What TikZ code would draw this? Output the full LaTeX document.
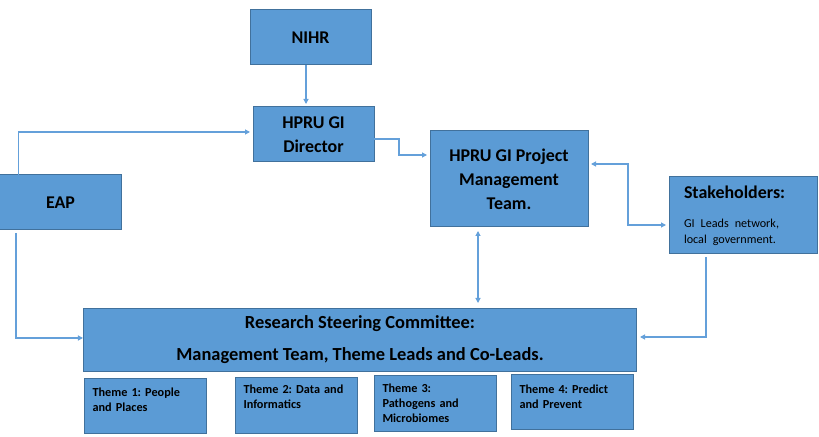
\documentclass[tikz,border=0pt]{standalone}
\usepackage{fontspec}
\setmainfont{Carlito}
\usetikzlibrary{arrows.meta, positioning, calc}
\definecolor{boxblue}{RGB}{91, 155, 213}
\definecolor{boxedge}{RGB}{65, 113, 156}
\definecolor{linkblue}{RGB}{100, 160, 218}
\frenchspacing

\begin{document}
\begin{tikzpicture}[x=1bp, y=-1bp,
    >={Triangle[length=5bp, width=5bp]},
    box/.style={draw=boxedge, fill=boxblue, line width=1bp, inner sep=0pt, outer sep=0pt,
        align=center, font=\bfseries\fontsize{18}{24}\selectfont},
    theme/.style={box, anchor=north west, align=left, text width=105bp, inner xsep=8.5bp,
        font=\bfseries\fontsize{12.3}{15.5}\selectfont},
    link/.style={draw=linkblue, line width=1.1bp, ->, shorten >=3bp}]
    \useasboundingbox (0,0) rectangle (819,437);

    % top row
    \node[box, minimum width=121bp, minimum height=55bp] (nihr) at (310.5,37.5) {NIHR};
    \node[box, minimum width=121bp, minimum height=55bp] (dir) at (313.5,134.5) {HPRU GI\\Director};
    \node[box, minimum width=121bp, minimum height=55bp] (eap) at (60.5,202.5) {EAP};
    \node[box, minimum width=158bp, minimum height=96bp] (pm) at (509,179) {HPRU GI Project\\Management\\Team.};
    \node[box, minimum width=148bp, minimum height=77bp, align=left, text width=118bp] (stake) at (743,215.5)
        {Stakeholders:\par\vspace{13bp}{\mdseries\fontsize{12.2}{16}\selectfont GI Leads network,\\local government.\par}};

    % steering committee and themes
    \node[box, minimum width=552bp, minimum height=62bp, font=\bfseries\fontsize{18.5}{32}\selectfont] (rsc) at (360,340)
        {Research Steering Committee:\\Management Team, Theme Leads and Co-Leads.};
    \node[theme, text height=18bp, text depth=37bp] (th1) at (84,378) {Theme 1: People\\and Places};
    \node[theme, text height=16bp, text depth=40bp] (th2) at (235,377) {Theme 2: Data and\\Informatics};
    \node[theme, text height=17bp, text depth=39bp] (th3) at (374,375) {Theme 3:\\Pathogens and\\Microbiomes};
    \node[theme, text height=19bp, text depth=36bp] (th4) at (511,374) {Theme 4: Predict\\and Prevent};

    % connectors
    \coordinate (nihrout) at ($(nihr.south)+(-4.5,0)$);
    \draw[link] (nihrout) -- (nihrout |- dir.north);
    \coordinate (eapup) at ($(eap.north west)+(18.5,0)$);
    \draw[link] (eapup) |- ($(dir.west)+(0,-2.5)$);
    \draw[link] ($(dir.east)+(0,4.5)$) -- ++(25,0) |- ($(pm.west)+(0,-24)$);
    \draw[link, <->, shorten <=3bp] ($(pm.east)+(0,-15)$) -| ($(stake.west)+(-41,9.5)$) -- ($(stake.west)+(0,9.5)$);
    \coordinate (pmdown) at ($(pm.south)+(-31,0)$);
    \draw[link, <->, shorten <=4bp, shorten >=6bp] (pmdown) -- (pmdown |- rsc.north);
    \draw[link, shorten <=3bp, shorten >=1bp] ($(eap.south west)+(16,0)$) |- ($(rsc.west)+(0,-2)$);
    \draw[link, shorten <=3bp, shorten >=4bp] ($(stake.south)+(-37,0)$) |- ($(rsc.east)+(0,-3)$);
\end{tikzpicture}
\end{document}
